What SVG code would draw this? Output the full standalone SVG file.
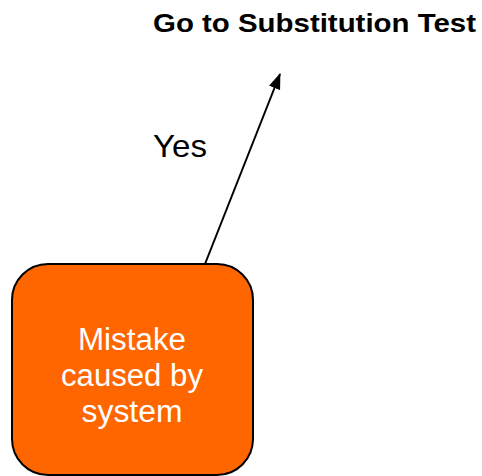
<svg xmlns="http://www.w3.org/2000/svg" width="482" height="476" viewBox="0 0 482 476">
  <style>
    .label { font-family: "Liberation Sans", Arial, sans-serif; fill: #000; }
    .title { font-size: 25px; font-weight: bold; }
    .edge { font-size: 32px; }
    .node-text { font-family: "Liberation Sans", Arial, sans-serif; font-size: 31px; fill: #fff; text-anchor: middle; }
    .conn { stroke: #000; stroke-width: 2; fill: none; }
  </style>
  <defs>
    <marker id="arrow" viewBox="0 0 16 12" refX="15" refY="6" markerWidth="16" markerHeight="12" markerUnits="userSpaceOnUse" orient="auto">
      <path d="M0,0 L16,6 L0,12 z" fill="#000"/>
    </marker>
  </defs>
  <rect width="482" height="476" fill="#fff"/>

  <g id="connectors">
    <line class="conn" x1="205" y1="264" x2="280" y2="74" marker-end="url(#arrow)"/>
    <text class="label edge" x="153" y="157" textLength="54" lengthAdjust="spacingAndGlyphs">Yes</text>
  </g>

  <g id="target">
    <text class="label title" x="153" y="32" textLength="323" lengthAdjust="spacingAndGlyphs">Go to Substitution Test</text>
  </g>

  <g id="mistake">
    <rect x="12" y="264" width="241" height="211" rx="36" ry="36" fill="#ff6600" stroke="#000" stroke-width="2"/>
    <text class="node-text" x="132" y="350" textLength="108" lengthAdjust="spacingAndGlyphs">Mistake</text>
    <text class="node-text" x="132" y="386" textLength="142" lengthAdjust="spacingAndGlyphs">caused by</text>
    <text class="node-text" x="132" y="422" textLength="101" lengthAdjust="spacingAndGlyphs">system</text>
  </g>
</svg>
